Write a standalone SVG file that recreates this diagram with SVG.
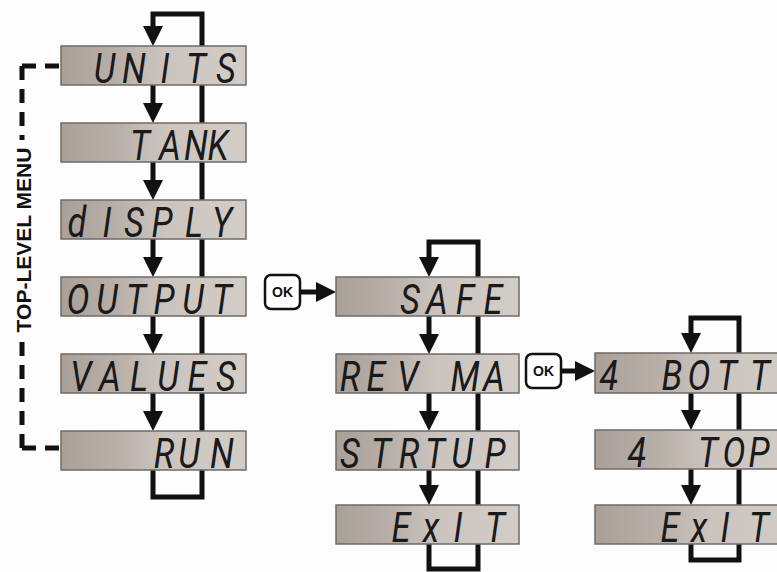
<svg xmlns="http://www.w3.org/2000/svg" width="777" height="572" viewBox="0 0 777 572">
<defs>
<linearGradient id="lcd" x1="0" y1="0" x2="1" y2="0">
<stop offset="0" stop-color="#aaa09a"/>
<stop offset="0.3" stop-color="#b9afa9"/>
<stop offset="0.55" stop-color="#cbc4be"/>
<stop offset="1" stop-color="#d3cdc8"/>
</linearGradient>
<marker id="ah" viewBox="0 0 20 20" refX="8" refY="10" markerWidth="20" markerHeight="20" markerUnits="userSpaceOnUse" orient="auto">
<path d="M0,0 L20,10 L0,20 z" fill="#111"/>
</marker>
<style>
.box{fill:url(#lcd);stroke:#6e6a67;stroke-width:1.5}
.lcd{font-family:Roboto,"Open Sans",Lato,sans-serif;font-style:italic;font-weight:400;font-size:43px;fill:#1a1a1a;text-anchor:middle}
.ar{fill:none;stroke:#111;stroke-width:5;marker-end:url(#ah)}
.dash{fill:none;stroke:#111;stroke-width:5;stroke-dasharray:14 9}
.okb{fill:#fff;stroke:#111;stroke-width:2.5}
.okt{font-family:"Liberation Sans",Arial,sans-serif;font-weight:bold;font-size:14px;fill:#111;text-anchor:middle}
.menu{font-family:"Liberation Sans",Arial,sans-serif;font-weight:bold;font-size:21px;fill:#111;text-anchor:middle}
</style>
</defs>
<rect width="777" height="572" fill="#fdfdfd"/>
<g id="connectors">
<path class="ar" d="M153 470 V497 H202 V14 H153 V34"/>
<path class="ar" d="M153 85 V111"/>
<path class="ar" d="M153 162 V188"/>
<path class="ar" d="M153 239 V265"/>
<path class="ar" d="M153 316 V342"/>
<path class="ar" d="M153 393 V419"/>
<path class="ar" d="M429 544 V569 H478 V242 H429 V265"/>
<path class="ar" d="M429 316 V342"/>
<path class="ar" d="M429 393 V419"/>
<path class="ar" d="M429 470 V493"/>
<path class="ar" d="M691 543 V560 H739 V318 H691 V341"/>
<path class="ar" d="M691 393 V418"/>
<path class="ar" d="M691 468 V493"/>
<path class="ar" d="M300 292 H324"/>
<path class="ar" d="M561 371 H583"/>
<path class="dash" d="M22 66 H60"/>
<path class="dash" d="M22 66 V140"/>
<path class="dash" d="M22 448 H60"/>
<path class="dash" d="M22 448 V338"/>
</g>
<text class="menu" transform="translate(31,240) rotate(-90)">TOP-LEVEL MENU</text>
<g id="units"><rect class="box" x="61" y="46" width="185" height="39"/><text class="lcd" transform="scale(0.8 1)" x="130.6 167.5 206.25 245 282.5" y="83">UNITS</text></g>
<g id="tank"><rect class="box" x="61" y="123" width="185" height="39"/><text class="lcd" transform="scale(0.8 1)" x="175 212.5 245 272.5" y="160">TANK</text></g>
<g id="display"><rect class="box" x="61" y="200" width="185" height="39"/><text class="lcd" transform="scale(0.8 1)" x="96.25 133.75 167.5 202.5 242.5 277.5" y="237">dISPLY</text></g>
<g id="output"><rect class="box" x="61" y="277" width="185" height="39"/><text class="lcd" transform="scale(0.8 1)" x="97.5 133.75 170 205 241.25 277.5" y="314">OUTPUT</text></g>
<g id="values"><rect class="box" x="61" y="354" width="185" height="39"/><text class="lcd" transform="scale(0.8 1)" x="101.25 137.5 173.75 210 246.25 282.5" y="391">VALUES</text></g>
<g id="run"><rect class="box" x="61" y="431" width="185" height="39"/><text class="lcd" transform="scale(0.8 1)" x="205 236.25 277.5" y="468">RUN</text></g>
<g id="ok1"><rect class="okb" x="265" y="275" width="35" height="34" rx="6"/><text class="okt" x="282.5" y="297">OK</text></g>
<g id="safe"><rect class="box" x="336" y="277" width="183" height="39"/><text class="lcd" transform="scale(0.8 1)" x="512.5 546.25 581.25 616.25" y="314">SAFE</text></g>
<g id="revma"><rect class="box" x="336" y="354" width="183" height="39"/><text class="lcd" transform="scale(0.8 1)" x="437.5 470 510 546.25 581.25 617.5" y="391">REV MA</text></g>
<g id="strtup"><rect class="box" x="336" y="431" width="183" height="39"/><text class="lcd" transform="scale(0.8 1)" x="437.5 476.25 511.25 543.75 577.5 618.75" y="468">STRTUP</text></g>
<g id="exit1"><rect class="box" x="336" y="505" width="183" height="39"/><text class="lcd" transform="scale(0.8 1)" x="501.25 538.75 572.5 618.75" y="542">ExIT</text></g>
<g id="ok2"><rect class="okb" x="526" y="354" width="35" height="34" rx="6"/><text class="okt" x="543.5" y="376">OK</text></g>
<g id="bott"><rect class="box" x="595" y="353" width="210" height="40"/><text class="lcd" transform="scale(0.8 1)" x="761.25 800 840 873.75 908.75 950" y="390">4 BOTT</text></g>
<g id="top"><rect class="box" x="595" y="430" width="210" height="39"/><text class="lcd" transform="scale(0.8 1)" x="796.25 842.5 885 917.5 948.75" y="467">4 TOP</text></g>
<g id="exit2"><rect class="box" x="595" y="505" width="210" height="39"/><text class="lcd" transform="scale(0.8 1)" x="837.5 873.75 906.25 948.75" y="542">ExIT</text></g>
</svg>
